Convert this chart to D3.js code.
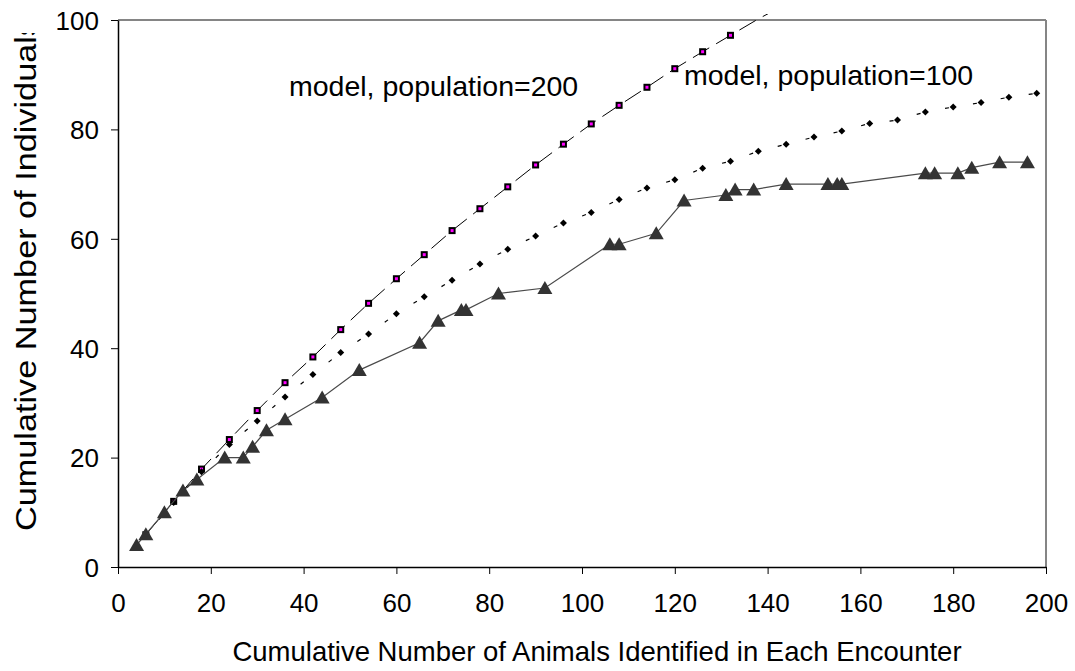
<!DOCTYPE html>
<html>
<head>
<meta charset="utf-8">
<script src="https://cdn.jsdelivr.net/npm/d3@7"></script>
<style>
  body { margin: 0; background: #fff; }
  svg { display: block; font-family: "Liberation Sans", Arial, sans-serif; }
</style>
</head>
<body>
<svg width="1075" height="671"></svg>
<script>
// observed encounters (triangles)
var obsX = [4, 6, 10, 14, 17, 23, 27, 29, 32, 36, 44, 52, 65, 69, 74, 75, 82, 92, 106, 108,
            116, 122, 131, 133, 137, 144, 153, 155, 156, 174, 176, 181, 184, 190, 196];
var obsY = [4, 6, 10, 14, 16, 20, 20, 22, 25, 27, 31, 36, 41, 45, 47, 47, 50, 51, 59, 59,
            61, 67, 68, 69, 69, 70, 70, 70, 70, 72, 72, 72, 73, 74, 74];

var modelX = [6, 12, 18, 24, 30, 36, 42, 48, 54, 60, 66, 72, 78, 84, 90, 96, 102, 108, 114,
              120, 126, 132, 138, 144, 150, 156, 162, 168, 174, 180, 186, 192, 198];
var model200 = [5.9, 12.0, 17.9, 23.3, 28.6, 33.7, 38.4, 43.4, 48.2, 52.7, 57.1, 61.5, 65.5,
                69.5, 73.5, 77.3, 81.0, 84.4, 87.7, 91.1, 94.2, 97.2, 100.2, 102.9];
var model100 = [5.9, 11.8, 17.4, 22.4, 26.7, 31.1, 35.2, 39.2, 42.6, 46.3, 49.4, 52.4, 55.4,
                58.1, 60.5, 62.9, 64.8, 67.2, 69.3, 70.8, 72.9, 74.2, 76.0, 77.3, 78.6, 79.7,
                81.1, 81.7, 83.2, 84.1, 84.9, 85.9, 86.6];

var xTicks = [0, 20, 40, 60, 80, 100, 120, 140, 160, 180, 200];
var yTicks = [0, 20, 40, 60, 80, 100];

var svg = d3.select('svg');
var x = d3.scaleLinear().domain([0, 200]).range([118, 1046]);
var y = d3.scaleLinear().domain([0, 100]).range([567, 20]);

function pts(xs, ys) {
  return ys.map(function(v, i) { return [xs[i], v]; });
}
var obs = pts(obsX, obsY);
var m200 = pts(modelX, model200);
var m100 = pts(modelX, model100);

var line = d3.line().x(function(d) { return x(d[0]); }).y(function(d) { return y(d[1]); });

// clip so the 200 model line stops just above the frame
svg.append('clipPath').attr('id', 'clip')
  .append('rect').attr('x', 118).attr('y', 14).attr('width', 930).attr('height', 560);

// frame: grey top / right, black axes
svg.append('line').attr('x1', 118).attr('x2', 1046).attr('y1', 20).attr('y2', 20)
  .style('stroke', '#858585').style('stroke-width', 2);
svg.append('line').attr('x1', 1046).attr('x2', 1046).attr('y1', 20).attr('y2', 567)
  .style('stroke', '#858585').style('stroke-width', 2);

var xAxis = svg.append('g').attr('transform', 'translate(0,567)')
  .call(d3.axisBottom(x).tickValues(xTicks).tickSize(7).tickPadding(20).tickSizeOuter(0));
var yAxis = svg.append('g').attr('transform', 'translate(118,0)')
  .call(d3.axisLeft(y).tickValues(yTicks).tickSize(7).tickPadding(12).tickSizeOuter(0));
[xAxis, yAxis].forEach(function(a) {
  a.select('.domain').style('stroke', '#000').style('stroke-width', 1.5);
  a.selectAll('.tick line').style('stroke', '#000').style('stroke-width', 1);
  a.selectAll('.tick text').style('font-size', '26px').style('fill', '#000')
    .style('font-family', '"Liberation Sans", Arial, sans-serif');
});
yAxis.selectAll('.tick text').attr('dy', '0.36em');

// model, population=200 : long dashes with square markers
svg.append('path').datum(m200).attr('d', line).attr('clip-path', 'url(#clip)')
  .style('fill', 'none').style('stroke', '#000').style('stroke-width', 1)
  .style('stroke-dasharray', '19,8');
svg.selectAll('.sq').data(m200.filter(function(d) { return d[1] <= 100; })).enter()
  .append('rect').attr('class', 'sq')
  .attr('x', function(d) { return x(d[0]) - 2.5; })
  .attr('y', function(d) { return y(d[1]) - 2.5; })
  .attr('width', 5).attr('height', 5)
  .style('fill', '#ff00ff').style('stroke', '#000').style('stroke-width', 2);

// model, population=100 : one short dash per segment, diamond markers
svg.selectAll('.seg').data(d3.pairs(m100)).enter()
  .append('line').attr('class', 'seg')
  .attr('x1', function(d) { return x(d[0][0]); })
  .attr('y1', function(d) { return y(d[0][1]); })
  .attr('x2', function(d) { return x(d[1][0]); })
  .attr('y2', function(d) { return y(d[1][1]); })
  .style('stroke', '#000').style('stroke-width', 1.2)
  .style('stroke-dasharray', '0,20,4,100');
svg.selectAll('.dm').data(m100).enter()
  .append('path').attr('class', 'dm')
  .attr('transform', function(d) { return 'translate(' + x(d[0]) + ',' + y(d[1]) + ')'; })
  .attr('d', 'M0,-3.5L3.5,0L0,3.5L-3.5,0Z')
  .style('fill', '#000');

// observed data : solid line with dark triangles
svg.append('path').datum(obs).attr('d', line)
  .style('fill', 'none').style('stroke', '#4a4a4a').style('stroke-width', 1.2);
svg.selectAll('.tri').data(obs).enter()
  .append('path').attr('class', 'tri')
  .attr('transform', function(d) { return 'translate(' + x(d[0]) + ',' + y(d[1]) + ')'; })
  .attr('d', 'M0,-7L7.5,6L-7.5,6Z')
  .style('fill', '#333');

// labels
svg.append('text').attr('x', 289).attr('y', 96).text('model, population=200')
  .style('font-size', '28.5px').style('fill', '#000');
svg.append('text').attr('x', 684).attr('y', 85).text('model, population=100')
  .style('font-size', '28.5px').style('fill', '#000');

svg.append('text').attr('x', 597).attr('y', 661).attr('text-anchor', 'middle')
  .text('Cumulative Number of Animals Identified in Each Encounter')
  .style('font-size', '27.5px').style('fill', '#000');

// y title runs past the top of the chart area and is cut off there
svg.append('clipPath').attr('id', 'ytclip')
  .append('rect').attr('x', 0).attr('y', 33).attr('width', 60).attr('height', 600);
svg.append('g').attr('clip-path', 'url(#ytclip)')
  .append('text').attr('transform', 'translate(36,531) rotate(-90)')
  .attr('textLength', 512).attr('lengthAdjust', 'spacingAndGlyphs')
  .text('Cumulative Number of Individuals')
  .style('font-size', '30px').style('fill', '#000');
</script>
</body>
</html>
